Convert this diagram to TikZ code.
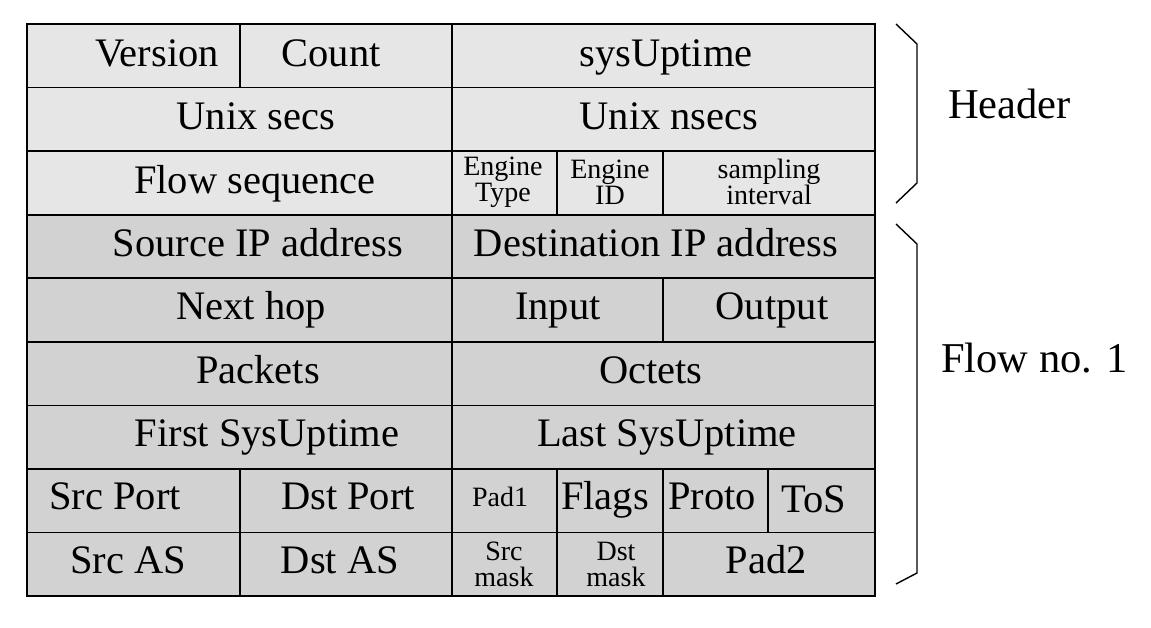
\documentclass[tikz,border=0pt]{standalone}
\usepackage{fontspec}
\setmainfont{Liberation Serif}
\begin{document}
\begin{tikzpicture}[x=1pt,y=-1pt,
  grid/.style={line width=1.6pt,line cap=rect},
  big/.style={font=\fontsize{40.5}{45}\selectfont,inner sep=0pt,anchor=base},
  small/.style={font=\fontsize{28}{26}\selectfont,inner sep=0pt,align=center,anchor=center},
  side/.style={font=\fontsize{42.5}{48}\selectfont,inner sep=0pt,anchor=base west},
  bracket/.style={line width=1.4pt,line join=miter}]
\definecolor{hdrgray}{HTML}{E6E6E6}
\definecolor{flowgray}{HTML}{D2D2D2}
\useasboundingbox (0,0) rectangle (1151,627);
% row boundaries
\def\ra{24}\def\rb{87.6}\def\rc{151.1}\def\rd{214.7}\def\re{278.2}
\def\rf{341.8}\def\rg{405.3}\def\rh{468.9}\def\ri{532.4}\def\rj{596}
% backgrounds
\fill[hdrgray] (27,\ra) rectangle (875,\rd);
\fill[flowgray] (27,\rd) rectangle (875,\rj);
% horizontal rules
\foreach \y in {\ra,\rb,\rc,\rd,\re,\rf,\rg,\rh,\ri,\rj}
  \draw[grid] (27,\y) -- (875,\y);
\draw[grid] (27,\ra) -- (27,\rj);
\draw[grid] (875,\ra) -- (875,\rj);
% vertical rules per row
\draw[grid] (240,\ra) -- (240,\rb);
\draw[grid] (452,\ra) -- (452,\rj);
\draw[grid] (557,\rc) -- (557,\rd);
\draw[grid] (663,\rc) -- (663,\rd);
\draw[grid] (663,\re) -- (663,\rf);
\draw[grid] (240,\rh) -- (240,\rj);
\draw[grid] (557,\rh) -- (557,\rj);
\draw[grid] (663,\rh) -- (663,\rj);
\draw[grid] (768,\rh) -- (768,\ri);
% header fields
\node[big] (version) at (157,66) {Version};
\node[big] (count) at (331,66) {Count};
\node[big] (uptime) at (666,66) {sysUptime};
\node[big] (usecs) at (256,129) {Unix secs};
\node[big] (unsecs) at (669,129) {Unix nsecs};
\node[big] (flowseq) at (255,193) {Flow sequence};
\node[small] (etype) at (503,182) {Engine\\Type};
\node[small] (eid) at (610,182) {Engine\\ID};
\node[small] (sampling) at (769,182) {sampling\\interval};
% flow record fields
\node[big] (srcip) at (258,256) {Source IP address};
\node[big] (dstip) at (656,256) {Destination IP address};
\node[big] (nexthop) at (251,319) {Next hop};
\node[big] (input) at (558,319) {Input};
\node[big] (output) at (772,319) {Output};
\node[big] (packets) at (258,383) {Packets};
\node[big] (octets) at (651,383) {Octets};
\node[big] (first) at (267,446) {First SysUptime};
\node[big] (last) at (667,446) {Last SysUptime};
\node[big] (srcport) at (115,509) {Src Port};
\node[big] (dstport) at (348,509) {Dst Port};
\node[font=\fontsize{28}{26}\selectfont,inner sep=0pt,anchor=base] (pad1) at (500,506) {Pad1};
\node[big] (flags) at (605,509) {Flags};
\node[big] (proto) at (712,509) {Proto};
\node[big] (tos) at (814,512) {ToS};
\node[big] (srcas) at (128,573) {Src AS};
\node[big] (dstas) at (340,573) {Dst AS};
\node[small] (srcmask) at (504,564) {Src\\mask};
\node[small] (dstmask) at (616,564) {Dst\\mask};
\node[big] (pad2) at (766,573) {Pad2};
% brackets and group labels
\draw[bracket] (896,24) -- (917,44) -- (917,183) -- (896,203);
\draw[bracket] (896,224) -- (917,244) -- (917,573) -- (896,584);
\node[side] (hdr) at (948,118) {Header};
\node[side] (flow) at (941,372) {Flow no. 1};
\end{tikzpicture}
\end{document}
